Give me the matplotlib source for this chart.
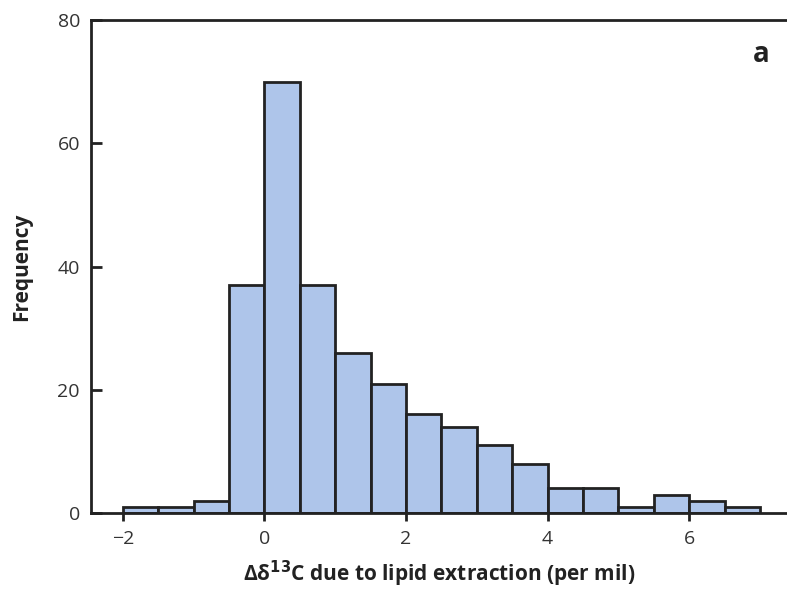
import matplotlib
matplotlib.use("Agg")
import matplotlib.pyplot as plt
import numpy as np

bin_edges = [-2, -1.5, -1, -0.5, 0, 0.5, 1, 1.5, 2, 2.5, 3, 3.5, 4, 4.5, 5, 5.5, 6, 6.5, 7]
counts = [1, 1, 2, 37, 70, 37, 26, 21, 16, 14, 11, 8, 4, 4, 1, 3, 2, 1]
xticks = [-2, 0, 2, 4, 6]
yticks = [0, 20, 40, 60, 80]

plt.rcParams['font.family'] = ['Open Sans', 'DejaVu Sans']

fig = plt.figure(figsize=(7.87, 5.92), dpi=100)
ax = fig.add_axes([91/787, 1-513/592, 1-91/787, (513-20)/592])

lefts = np.array(bin_edges[:-1])
widths = np.diff(bin_edges)
ax.bar(lefts, counts, width=widths, align='edge', color='#aec5ea',
       edgecolor='#222222', linewidth=2)

ax.set_xlim(-2.45, 7.38)
ax.set_ylim(0, 80)
ax.set_xticks(xticks)
ax.set_xticklabels(['\u22122', '0', '2', '4', '6'])
ax.set_yticks(yticks)
ax.tick_params(axis='x', direction='out', length=6, width=2, color='#222222',
               labelsize=14, labelcolor='#333333', pad=6)
ax.tick_params(axis='y', direction='in', length=8, width=2, color='#222222',
               labelsize=14, labelcolor='#333333', pad=8)
for s in ['left', 'top', 'bottom']:
    ax.spines[s].set_linewidth(2)
    ax.spines[s].set_color('#222222')
ax.spines['right'].set_visible(False)

ax.set_xlabel('\u0394\u03b4$^{\\mathbf{13}}$C due to lipid extraction (per mil)',
              fontsize=15, fontweight='bold', color='#222222', labelpad=8)
ax.set_ylabel('Frequency', fontsize=15, fontweight='bold', color='#222222', labelpad=18)
ax.text(0.975, 0.93, 'a', transform=ax.transAxes, fontsize=20, fontweight='bold',
        color='#222222', ha='right', va='center')

fig.savefig('out.png', dpi=100)
